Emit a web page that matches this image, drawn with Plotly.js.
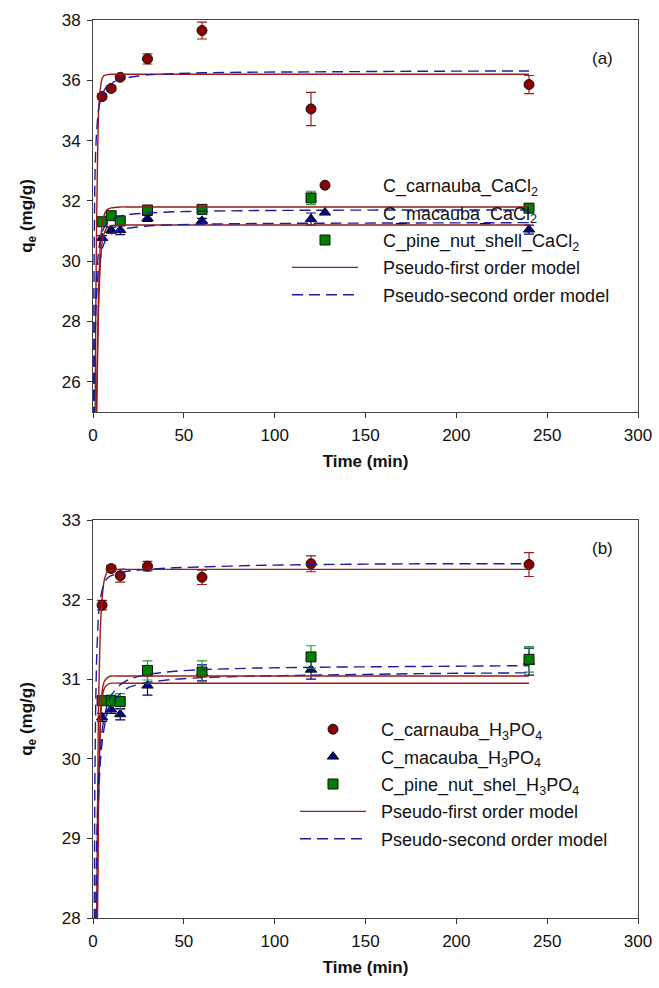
<!DOCTYPE html>
<html>
<head>
<meta charset="utf-8">
<script src="https://cdn.plot.ly/plotly-3.0.1.min.js"></script>
<style>html,body{margin:0;padding:0;background:#fff;}#chart{width:659px;height:988px;}</style>
</head>
<body>
<div id="chart"></div>
<script>
// ---------- Data ----------
const timePts = [5, 10, 15, 30, 60, 120, 240];

// Panel (a) CaCl2
const carnaubaCaCl2 = [35.46, 35.73, 36.10, 36.71, 37.65, 35.05, 35.86];
const carnaubaCaCl2Err = [0.08, 0.08, 0.05, 0.17, 0.28, 0.55, 0.30];
const macaubaCaCl2 = [30.77, 31.03, 31.03, 31.42, 31.34, 31.40, 31.05];
const macaubaCaCl2Err = [0.08, 0.10, 0.15, 0.10, 0.08, 0.20, 0.15];
const pineCaCl2 = [31.31, 31.51, 31.34, 31.70, 31.72, 32.10, 31.76];
const pineCaCl2Err = [0.08, 0.08, 0.12, 0.10, 0.08, 0.22, 0.15];

// Panel (b) H3PO4
const carnaubaH3PO4 = [31.93, 32.39, 32.30, 32.42, 32.28, 32.45, 32.44];
const carnaubaH3PO4Err = [0.06, 0.04, 0.08, 0.06, 0.09, 0.10, 0.15];
const macaubaH3PO4 = [30.52, 30.62, 30.56, 30.92, 31.08, 31.12, 31.22];
const macaubaH3PO4Err = [0.05, 0.05, 0.07, 0.12, 0.10, 0.12, 0.17];
const pineH3PO4 = [30.73, 30.73, 30.72, 31.11, 31.09, 31.28, 31.25];
const pineH3PO4Err = [0.05, 0.07, 0.10, 0.12, 0.14, 0.14, 0.16];

// Model curves
const tFit = [0, 0.5, 1, 1.5, 2, 3, 4, 5, 6, 7, 8, 10, 15, 20, 30, 45, 60, 90, 120, 180, 240];
// (a)
const pfoCarnaubaA = [0, 14.2, 22.9, 28.1, 31.3, 34.9, 35.7, 36.05, 36.15, 36.18, 36.19, 36.2, 36.2, 36.2, 36.2, 36.2, 36.2, 36.2, 36.2, 36.2, 36.2];
const psoCarnaubaA = [0, 29.0, 32.5, 33.7, 34.3, 35.0, 35.3, 35.5, 35.65, 35.75, 35.82, 35.9, 36.05, 36.1, 36.18, 36.22, 36.25, 36.27, 36.28, 36.3, 36.31];
const pfoMacaubaA = [0, 10.4, 17.2, 21.8, 24.9, 28.3, 29.9, 30.6, 30.9, 31.05, 31.12, 31.18, 31.2, 31.2, 31.2, 31.2, 31.2, 31.2, 31.2, 31.2, 31.2];
const psoMacaubaA = [0, 23.5, 26.9, 28.2, 28.9, 29.7, 30.1, 30.4, 30.57, 30.7, 30.78, 30.9, 31.05, 31.1, 31.17, 31.21, 31.23, 31.25, 31.26, 31.27, 31.28];
const pfoPineA = [0, 10.6, 17.5, 22.3, 25.4, 28.9, 30.5, 31.2, 31.5, 31.65, 31.72, 31.77, 31.8, 31.8, 31.8, 31.8, 31.8, 31.8, 31.8, 31.8, 31.8];
const psoPineA = [0, 24.3, 27.6, 28.8, 29.5, 30.3, 30.7, 30.95, 31.1, 31.2, 31.28, 31.38, 31.5, 31.55, 31.6, 31.64, 31.66, 31.68, 31.69, 31.7, 31.7];
// (b)
const pfoCarnaubaB = [0, 12.0, 20.5, 25.3, 27.9, 30.6, 31.6, 32.0, 32.22, 32.31, 32.35, 32.37, 32.38, 32.38, 32.38, 32.38, 32.38, 32.38, 32.38, 32.38, 32.38];
const psoCarnaubaB = [0, 26.5, 29.6, 30.7, 31.25, 31.8, 32.0, 32.12, 32.19, 32.24, 32.27, 32.3, 32.34, 32.36, 32.38, 32.4, 32.41, 32.43, 32.44, 32.45, 32.45];
const pfoMacaubaB = [0, 11.5, 19.5, 24.1, 26.7, 29.4, 30.4, 30.75, 30.87, 30.91, 30.93, 30.95, 30.95, 30.95, 30.95, 30.95, 30.95, 30.95, 30.95, 30.95, 30.95];
const psoMacaubaB = [0, 21.5, 26.0, 27.6, 28.6, 29.5, 29.95, 30.2, 30.37, 30.5, 30.58, 30.68, 30.82, 30.9, 30.96, 31.0, 31.02, 31.04, 31.05, 31.07, 31.08];
const pfoPineB = [0, 11.6, 19.6, 24.2, 26.8, 29.5, 30.5, 30.84, 30.96, 31.0, 31.02, 31.04, 31.04, 31.04, 31.04, 31.04, 31.04, 31.04, 31.04, 31.04, 31.04];
const psoPineB = [0, 22.0, 26.5, 28.0, 28.9, 29.7, 30.1, 30.35, 30.5, 30.6, 30.7, 30.8, 30.93, 31.0, 31.06, 31.1, 31.12, 31.14, 31.15, 31.16, 31.17];

const xTicks = [0, 50, 100, 150, 200, 250, 300];

// ---------- Styles ----------
const FONT = 'Arial, "Liberation Sans", sans-serif';
const RED = '#8B0000', NAVY = '#000080', GREEN = '#008000';
const RED_LINE = '#9B1C1C', BLUE_LINE = '#1C1CA0';

function pts(name, y, err, sym, col, errCol, xa, ya, leg, grp) {
  return {
    type: 'scatter', mode: 'markers', name: name, x: timePts, y: y,
    xaxis: xa, yaxis: ya, legend: leg, legendgroup: grp,
    marker: {symbol: sym, size: 10, color: col, line: {color: '#111', width: 1}},
    error_y: {type: 'data', array: err, visible: true, color: errCol, thickness: 1.2, width: 5}
  };
}
function curve(name, y, col, dash, xa, ya, leg, grp, show) {
  return {
    type: 'scatter', mode: 'lines', name: name, x: tFit, y: y,
    xaxis: xa, yaxis: ya, legend: leg, legendgroup: grp, showlegend: show,
    line: {color: col, width: 1.4, dash: dash, shape: 'spline', smoothing: 0.5}
  };
}
const DASH = '11px,6px';
const PADA = '&nbsp;&nbsp;&nbsp;&nbsp;';
const PADB = '&nbsp;&nbsp;';

const traces = [
  pts(PADA + 'C_carnauba_CaCl<sub>2</sub>', carnaubaCaCl2, carnaubaCaCl2Err, 'circle', RED, RED_LINE, 'x', 'y', 'legend', 'a1'),
  pts(PADA + 'C_macauba_CaCl<sub>2</sub>', macaubaCaCl2, macaubaCaCl2Err, 'triangle-up', NAVY, NAVY, 'x', 'y', 'legend', 'a2'),
  pts(PADA + 'C_pine_nut_shell_CaCl<sub>2</sub>', pineCaCl2, pineCaCl2Err, 'square', GREEN, '#2EA02E', 'x', 'y', 'legend', 'a3'),
  curve(PADA + 'Pseudo-first order model', pfoCarnaubaA, RED_LINE, 'solid', 'x', 'y', 'legend', 'a4', true),
  curve(PADA + 'Pseudo-second order model', psoCarnaubaA, BLUE_LINE, DASH, 'x', 'y', 'legend', 'a5', true),
  curve('pfo mac a', pfoMacaubaA, RED_LINE, 'solid', 'x', 'y', 'legend', 'a6', false),
  curve('pso mac a', psoMacaubaA, BLUE_LINE, DASH, 'x', 'y', 'legend', 'a7', false),
  curve('pfo pine a', pfoPineA, RED_LINE, 'solid', 'x', 'y', 'legend', 'a8', false),
  curve('pso pine a', psoPineA, BLUE_LINE, DASH, 'x', 'y', 'legend', 'a9', false),

  pts(PADB + 'C_carnauba_H<sub>3</sub>PO<sub>4</sub>', carnaubaH3PO4, carnaubaH3PO4Err, 'circle', RED, RED_LINE, 'x2', 'y2', 'legend2', 'b1'),
  pts(PADB + 'C_macauba_H<sub>3</sub>PO<sub>4</sub>', macaubaH3PO4, macaubaH3PO4Err, 'triangle-up', NAVY, NAVY, 'x2', 'y2', 'legend2', 'b2'),
  pts(PADB + 'C_pine_nut_shel_H<sub>3</sub>PO<sub>4</sub>', pineH3PO4, pineH3PO4Err, 'square', GREEN, '#2EA02E', 'x2', 'y2', 'legend2', 'b3'),
  curve(PADB + 'Pseudo-first order model', pfoCarnaubaB, RED_LINE, 'solid', 'x2', 'y2', 'legend2', 'b4', true),
  curve(PADB + 'Pseudo-second order model', psoCarnaubaB, BLUE_LINE, DASH, 'x2', 'y2', 'legend2', 'b5', true),
  curve('pfo mac b', pfoMacaubaB, RED_LINE, 'solid', 'x2', 'y2', 'legend2', 'b6', false),
  curve('pso mac b', psoMacaubaB, BLUE_LINE, DASH, 'x2', 'y2', 'legend2', 'b7', false),
  curve('pfo pine b', pfoPineB, RED_LINE, 'solid', 'x2', 'y2', 'legend2', 'b8', false),
  curve('pso pine b', psoPineB, BLUE_LINE, DASH, 'x2', 'y2', 'legend2', 'b9', false)
];

// ---------- Layout ----------
const H = 988, ML = 93, MR = 21, MT = 20, MB = 70;
const PH = H - MT - MB;
const py = p => (H - MB - p) / PH;
const px = p => (p - ML) / 545;

function xax(anchor) {
  return {
    domain: [0, 1], anchor: anchor, range: [0, 300], tickvals: xTicks,
    ticks: 'outside', ticklen: 5, tickcolor: '#333', showgrid: false, zeroline: false,
    showline: true, mirror: true, linecolor: '#444', linewidth: 1,
    tickfont: {family: FONT, size: 17, color: '#111'}, ticklabelstandoff: 3,
    title: {text: '<b>Time (min)</b>', font: {family: FONT, size: 17, color: '#111'}, standoff: 10}
  };
}
function yax(anchor, dom, rng, t0, dt) {
  return {
    domain: dom, anchor: anchor, range: rng, dtick: dt, tick0: t0,
    ticks: 'outside', ticklen: 5, tickcolor: '#333', showgrid: false, zeroline: false,
    showline: true, mirror: true, linecolor: '#444', linewidth: 1,
    tickfont: {family: FONT, size: 17, color: '#111'}, ticklabelstandoff: 3,
    title: {text: '<b>q<sub>e</sub> (mg/g)</b>', font: {family: FONT, size: 17, color: '#111'}, standoff: 24}
  };
}

const legendCommon = {
  font: {family: FONT, size: 18, color: '#111'},
  bgcolor: 'rgba(0,0,0,0)', borderwidth: 0, itemwidth: 66,
  traceorder: 'grouped', tracegroupgap: 1, xanchor: 'left', yanchor: 'top'
};

const layout = {
  width: 659, height: 988,
  margin: {l: ML, r: MR, t: MT, b: MB},
  paper_bgcolor: '#fff', plot_bgcolor: '#fff',
  font: {family: FONT},
  xaxis: xax('y'),
  yaxis: yax('x', [py(412), 1], [25, 38], 26, 2),
  xaxis2: xax('y2'),
  yaxis2: yax('x2', [0, py(520)], [28, 33], 28, 1),
  legend: Object.assign({}, legendCommon, {x: px(287), y: py(167)}),
  legend2: Object.assign({}, legendCommon, {x: px(295), y: py(711)}),
  annotations: [
    {text: '(a)', xref: 'paper', yref: 'paper', x: px(615), y: py(47), showarrow: false,
     font: {family: FONT, size: 17, color: '#111'}},
    {text: '(b)', xref: 'paper', yref: 'paper', x: px(615), y: py(548), showarrow: false,
     font: {family: FONT, size: 17, color: '#111'}}
  ],
  showlegend: true
};

Plotly.newPlot('chart', traces, layout, {staticPlot: true, displayModeBar: false});
</script>
</body>
</html>
